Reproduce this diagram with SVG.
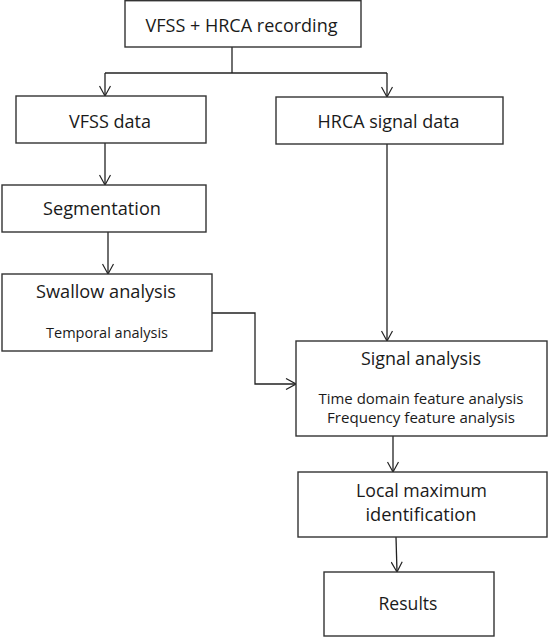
<svg xmlns="http://www.w3.org/2000/svg" width="548" height="637" viewBox="0 0 548 637">
<defs>
<marker id="arr" viewBox="0 0 12 12" refX="11" refY="6" markerWidth="12" markerHeight="12" markerUnits="userSpaceOnUse" orient="auto">
<path d="M1,0.5 L11,6 L1,11.5" fill="none" stroke="#222" stroke-width="1.2"/>
</marker>
</defs>
<style>
rect{fill:#fff;stroke:#333;stroke-width:1.4}
text{font-family:"Open Sans","Liberation Sans",sans-serif;fill:#1a1a1a;text-anchor:middle}
.m{font-size:18px}
.s{font-size:14px}
.c{fill:none;stroke:#222;stroke-width:1.3}
</style>
<rect x="0" y="0" width="548" height="637" style="fill:#fff;stroke:none"/>
<g id="connectors">
<path class="c" d="M232,47 V73"/>
<path class="c" d="M105,73 H387"/>
<path class="c" d="M105,73 V96" marker-end="url(#arr)"/>
<path class="c" d="M387,73 V97" marker-end="url(#arr)"/>
<path class="c" d="M105,143 V185" marker-end="url(#arr)"/>
<path class="c" d="M108,232 V274" marker-end="url(#arr)"/>
<path class="c" d="M387,144 V341" marker-end="url(#arr)"/>
<path class="c" d="M212,313 H255 V384 H296" marker-end="url(#arr)"/>
<path class="c" d="M393,436 V472" marker-end="url(#arr)"/>
<path class="c" d="M396,537 L397,572" marker-end="url(#arr)"/>
</g>
<g id="recording">
<rect x="125" y="0.7" width="236" height="46.3"/>
<text class="m" x="241.5" y="32" textLength="192" lengthAdjust="spacingAndGlyphs">VFSS + HRCA recording</text>
</g>
<g id="vfss">
<rect x="16" y="96" width="190" height="47"/>
<text class="m" x="110" y="128" textLength="82" lengthAdjust="spacingAndGlyphs">VFSS data</text>
</g>
<g id="hrca">
<rect x="276" y="97" width="227" height="47"/>
<text class="m" x="388.6" y="128" textLength="142" lengthAdjust="spacingAndGlyphs">HRCA signal data</text>
</g>
<g id="segmentation">
<rect x="2" y="185" width="204" height="47"/>
<text class="m" x="102" y="215" textLength="118" lengthAdjust="spacingAndGlyphs">Segmentation</text>
</g>
<g id="swallow">
<rect x="2" y="274" width="210" height="77"/>
<text class="m" x="106" y="298" textLength="140" lengthAdjust="spacingAndGlyphs">Swallow analysis</text>
<text class="s" x="107" y="338" textLength="122" lengthAdjust="spacingAndGlyphs">Temporal analysis</text>
</g>
<g id="signal">
<rect x="296" y="341" width="251" height="95"/>
<text class="m" x="421" y="365" textLength="120" lengthAdjust="spacingAndGlyphs">Signal analysis</text>
<text class="s" x="421" y="404" textLength="205" lengthAdjust="spacingAndGlyphs">Time domain feature analysis</text>
<text class="s" x="421" y="423" textLength="188" lengthAdjust="spacingAndGlyphs">Frequency feature analysis</text>
</g>
<g id="localmax">
<rect x="298" y="472" width="249" height="65"/>
<text class="m" x="421.5" y="497" textLength="131" lengthAdjust="spacingAndGlyphs">Local maximum</text>
<text class="m" x="421" y="521" textLength="111" lengthAdjust="spacingAndGlyphs">identification</text>
</g>
<g id="results">
<rect x="324" y="572" width="170" height="64"/>
<text class="m" x="408" y="610" textLength="59" lengthAdjust="spacingAndGlyphs">Results</text>
</g>
</svg>
